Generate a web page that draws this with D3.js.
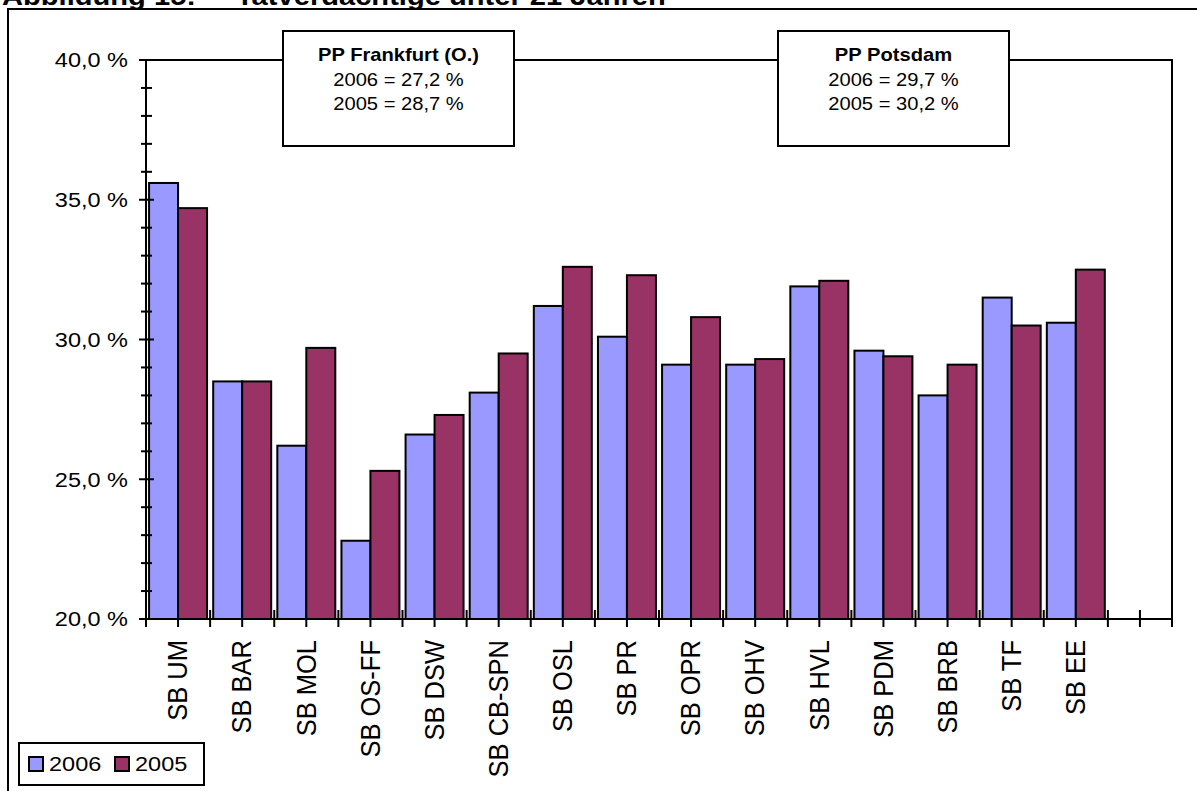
<!DOCTYPE html>
<html><head><meta charset="utf-8">
<script src="https://cdn.jsdelivr.net/npm/d3@7"></script>
<style>html,body{margin:0;padding:0;background:#fff;overflow:hidden}</style>
</head><body>
<svg id="c" width="1197" height="791"></svg>
<script>
const categories = ["SB UM","SB BAR","SB MOL","SB OS-FF","SB DSW","SB CB-SPN","SB OSL","SB PR","SB OPR","SB OHV","SB HVL","SB PDM","SB BRB","SB TF","SB EE",""];
const series = ["2006","2005"];
const values2006 = [35.6,28.5,26.2,22.8,26.6,28.1,31.2,30.1,29.1,29.1,31.9,29.6,28.0,31.5,30.6,null];
const values2005 = [34.7,28.5,29.7,25.3,27.3,29.5,32.6,32.3,30.8,29.3,32.1,29.4,29.1,30.5,32.5,null];
const yTicks = [20,25,30,35,40];
const yTickLabels = ["20,0 %","25,0 %","30,0 %","35,0 %","40,0 %"];
const colors = ["#9999FF","#993366"];
const titleParts = ["Abbildung 15:","Tatverdächtige unter 21 Jahren"];
const boxes = [
  {title:"PP Frankfurt (O.)", lines:["2006 = 27,2 %","2005 = 28,7 %"]},
  {title:"PP Potsdam", lines:["2006 = 29,7 %","2005 = 30,2 %"]}
];

const SX = 1.12;
const font = "Arial, 'Liberation Sans', Helvetica, sans-serif";
const svg = d3.select("#c");
const L = 146, R = 1172, T = 60, B = 619;

const x = d3.scaleBand().domain(categories).range([L, R]).padding(0);
const xs = d3.scaleBand().domain(series).range([0, x.bandwidth()]).paddingInner(0).paddingOuter(0.106);
const y = d3.scaleLinear().domain([20, 40]).range([B, T]);

// title (cut off at top)
const tx = [2, 236];
titleParts.forEach((t,i)=>{
  svg.append("text").attr("transform",`translate(${tx[i]},5) scale(${SX},1)`)
    .attr("font-family",font).attr("font-weight","bold").attr("font-size",26).attr("fill","#000").text(t);
});

// outer frame
svg.append("rect").attr("x",8).attr("y",9).attr("width",1200).attr("height",800)
  .attr("fill","none").attr("stroke","#000").attr("stroke-width",2);

// plot border top & right
svg.append("path").attr("d",`M${L},${T}H${R}V${B}`).attr("fill","none").attr("stroke","#000").attr("stroke-width",2);

// x ticks at every half category
const xt = [];
categories.forEach(c=>{ xt.push(x(c)); xt.push(x(c)+x.bandwidth()/2); });
xt.push(R);
svg.append("g").selectAll("line").data(xt).join("line")
  .attr("x1",d=>d).attr("x2",d=>d).attr("y1",B-9).attr("y2",B+8)
  .attr("stroke","#000").attr("stroke-width",2);

// bars
const data = categories.map((c,i)=>({c, v:[values2006[i], values2005[i]]}));
const g = svg.append("g");
data.forEach(d=>{
  series.forEach((s,j)=>{
    if (d.v[j]==null) return;
    g.append("rect").attr("x",x(d.c)+xs(s)).attr("y",y(d.v[j]))
      .attr("width",xs.bandwidth()).attr("height",y(20)-y(d.v[j]))
      .attr("fill",colors[j]).attr("stroke","#000").attr("stroke-width",2);
  });
});

// y axis
const minor = d3.range(20,41,1);
svg.append("g").selectAll("line").data(minor).join("line")
  .attr("x1",d=> d%5===0 ? L-7 : L-5).attr("x2",d=> d%5===0 ? L+8 : L+6)
  .attr("y1",d=>y(d)).attr("y2",d=>y(d)).attr("stroke","#000").attr("stroke-width",2);
svg.append("line").attr("x1",L).attr("x2",L).attr("y1",T).attr("y2",B).attr("stroke","#000").attr("stroke-width",2);
svg.append("line").attr("x1",L).attr("x2",R).attr("y1",B).attr("y2",B).attr("stroke","#000").attr("stroke-width",2);

yTicks.forEach((t,i)=>{
  svg.append("text").attr("transform",`translate(128,${y(t)}) scale(${SX},1)`)
    .attr("text-anchor","end").attr("dy","0.35em")
    .attr("font-family",font).attr("font-size",21).attr("fill","#000").text(yTickLabels[i]);
});

// category labels
categories.forEach(c=>{
  if (!c) return;
  svg.append("text").attr("transform",`translate(${x(c)+x.bandwidth()/2-1},640) scale(${SX},1) rotate(-90)`)
    .attr("text-anchor","end").attr("dy","0.36em")
    .attr("font-family",font).attr("font-size",25.5).attr("fill","#000").text(c);
});

// annotation boxes
const boxX = [283, 778];
boxes.forEach((b,i)=>{
  const bx = boxX[i], bw = 231;
  svg.append("rect").attr("x",bx).attr("y",31).attr("width",bw).attr("height",115)
    .attr("fill","#fff").attr("stroke","#000").attr("stroke-width",2);
  const cx = bx + bw/2;
  svg.append("text").attr("transform",`translate(${cx},61) scale(${SX},1)`).attr("text-anchor","middle")
    .attr("font-family",font).attr("font-weight","bold").attr("font-size",18).text(b.title);
  b.lines.forEach((l,k)=>{
    svg.append("text").attr("transform",`translate(${cx},${86+k*24}) scale(${SX},1)`).attr("text-anchor","middle")
      .attr("font-family",font).attr("font-size",18).text(l);
  });
});

// legend
svg.append("rect").attr("x",19).attr("y",743).attr("width",185).attr("height",42)
  .attr("fill","#fff").attr("stroke","#000").attr("stroke-width",2);
const legX = [29, 115], legTX = [49, 135];
series.forEach((s,i)=>{
  svg.append("rect").attr("x",legX[i]).attr("y",757).attr("width",14).attr("height",14)
    .attr("fill",colors[i]).attr("stroke","#000").attr("stroke-width",2);
  svg.append("text").attr("transform",`translate(${legTX[i]},771) scale(${SX},1)`)
    .attr("font-family",font).attr("font-size",21).text(s);
});
</script>
</body></html>
